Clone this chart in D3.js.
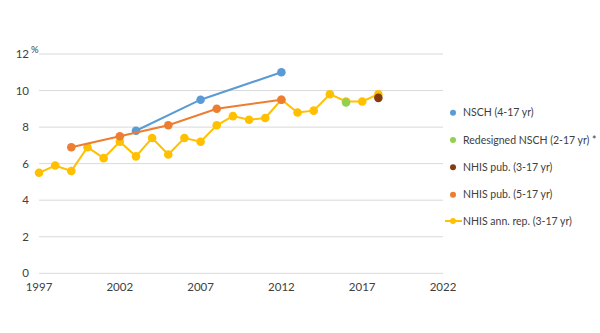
<!DOCTYPE html>
<html><head><meta charset="utf-8">
<script src="https://cdn.jsdelivr.net/npm/d3@7"></script>
<style>body{margin:0;background:#fff}svg{display:block}text{font-family:Lato,"Open Sans","Liberation Sans",sans-serif}</style>
</head><body><svg id="c" width="600" height="333"></svg>
<script>
const yearsAnn = [1997,1998,1999,2000,2001,2002,2003,2004,2005,2006,2007,2008,2009,2010,2011,2012,2013,2014,2015,2016,2017,2018];
const valuesAnn = [5.5,5.9,5.6,6.9,6.3,7.2,6.4,7.4,6.5,7.4,7.2,8.1,8.6,8.4,8.5,9.5,8.8,8.9,9.8,9.4,9.4,9.8];
const yearsNSCH = [2003,2007,2012];
const valuesNSCH = [7.8,9.5,11.0];
const yearsPub5 = [1999,2002,2005,2008,2012];
const valuesPub5 = [6.9,7.5,8.1,9.0,9.5];
const yearsRedesign = [2016];
const valuesRedesign = [9.35];
const yearsPub3 = [2018];
const valuesPub3 = [9.6];
const xTicks = [1997,2002,2007,2012,2017,2022];
const yTicks = [0,2,4,6,8,10,12];
const legendLabels = ["NSCH (4-17 yr)","Redesigned NSCH (2-17 yr)\u202F*","NHIS pub. (3-17 yr)","NHIS pub. (5-17 yr)","NHIS ann. rep. (3-17 yr)"];
const colors = {nsch:"#5b9bd5", red:"#92d050", pub3:"#843c0c", pub5:"#ed7d31", ann:"#ffc000"};

const svg = d3.select("#c");
const x = d3.scaleLinear().domain([1997,2022]).range([39,443]);
const y = d3.scaleLinear().domain([0,12]).range([273.3,54]);

svg.append("g").selectAll("line").data(yTicks).join("line")
  .attr("x1",39).attr("x2",443).attr("y1",d=>y(d)).attr("y2",d=>y(d))
  .attr("stroke","#d9d9d9").attr("stroke-width",1);

svg.append("g").selectAll("text").data(yTicks).join("text")
  .attr("x",29).attr("y",d=>y(d)).attr("dy","0.35em").attr("text-anchor","end")
  .attr("font-size",11.5).attr("fill","#404040").text(d=>d);
svg.append("text").attr("x",31).attr("y",y(12)-1).attr("font-size",9.5).attr("fill","#404040").text("%");

svg.append("g").selectAll("text").data(xTicks).join("text")
  .attr("x",d=>x(d)).attr("y",291).attr("text-anchor","middle")
  .attr("font-size",11.5).attr("fill","#404040").text(d=>d);

function series(years, vals, color, line){
  const pts = years.map((yr,i)=>[yr,vals[i]]);
  const g = svg.append("g");
  if(line){
    g.append("path").datum(pts).attr("fill","none").attr("stroke",color).attr("stroke-width",2)
      .attr("d", d3.line().x(d=>x(d[0])).y(d=>y(d[1])));
  }
  g.selectAll("circle").data(pts).join("circle")
    .attr("cx",d=>x(d[0])).attr("cy",d=>y(d[1])).attr("r",4.3).attr("fill",color);
}
series(yearsAnn, valuesAnn, colors.ann, true);
series(yearsNSCH, valuesNSCH, colors.nsch, true);
series(yearsPub5, valuesPub5, colors.pub5, true);
series(yearsRedesign, valuesRedesign, colors.red, false);
series(yearsPub3, valuesPub3, colors.pub3, false);

const legColors = [colors.nsch, colors.red, colors.pub3, colors.pub5, colors.ann];
const legY = [112.7,140,167.3,194.7,221];
const lg = svg.append("g");
legendLabels.forEach((t,i)=>{
  if(i===4){
    lg.append("line").attr("x1",445).attr("x2",462).attr("y1",legY[i]).attr("y2",legY[i])
      .attr("stroke",legColors[i]).attr("stroke-width",2);
  }
  lg.append("circle").attr("cx",453).attr("cy",legY[i]).attr("r",3).attr("fill",legColors[i]);
  lg.append("text").attr("x",463).attr("y",legY[i]).attr("dy","0.35em")
    .attr("font-size",10.5).attr("fill","#404040").text(t);
});
</script></body></html>
